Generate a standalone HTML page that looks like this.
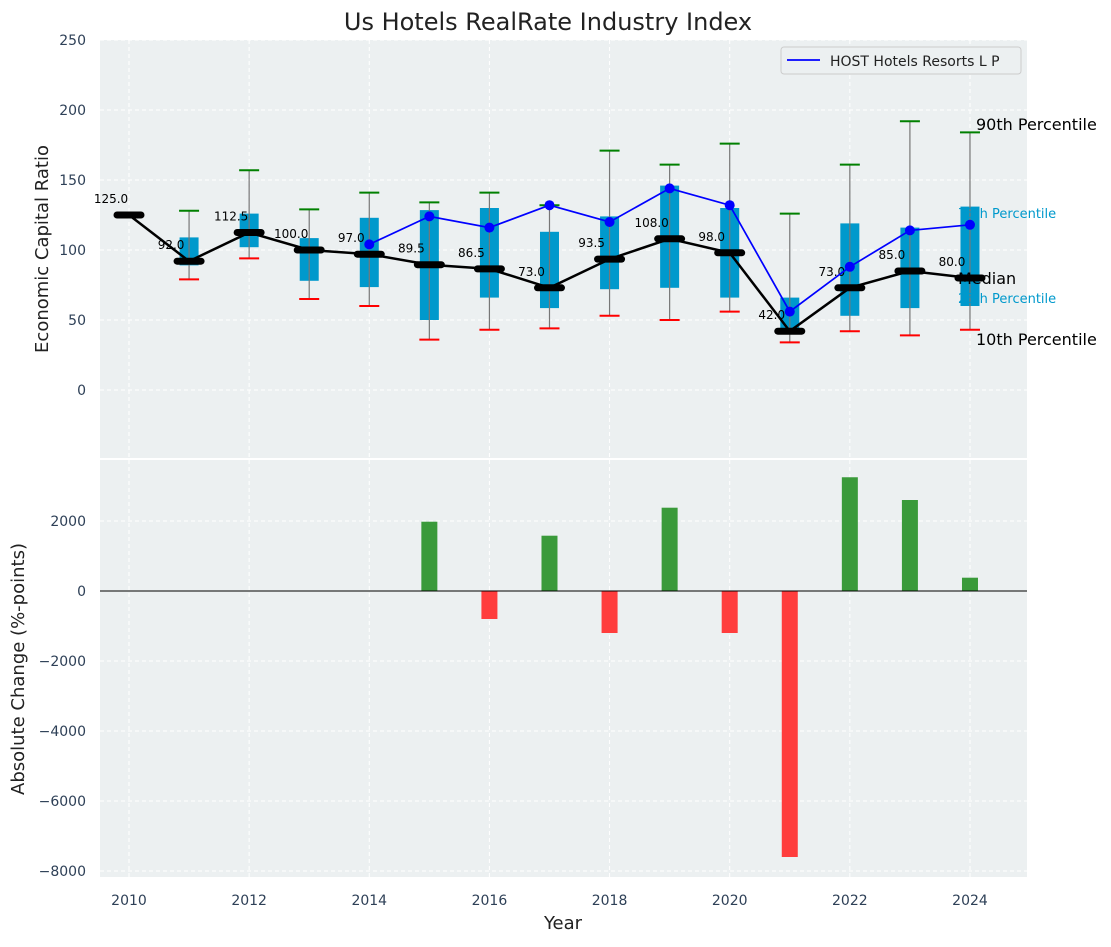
<!DOCTYPE html>
<html><head><meta charset="utf-8"><style>
body{margin:0;background:#fff;font-family:"Liberation Sans","DejaVu Sans",sans-serif}
svg text{font-family:"DejaVu Sans","Liberation Sans",sans-serif}
</style></head><body>
<svg id="c" width="1111" height="942" xmlns="http://www.w3.org/2000/svg"></svg>
<script>
const years=[2010,2011,2012,2013,2014,2015,2016,2017,2018,2019,2020,2021,2022,2023,2024];
const medians=[125,92,112.5,100,97,89.5,86.5,73,93.5,108,98,42,73,85,80];
const p10=[null,79,94,65,60,36,43,44,53,50,56,34,42,39,43];
const p90=[null,128,157,129,141,134,141,132,171,161,176,126,161,192,184];
const q25=[null,89,102,78,73.5,50,66,58.5,72,73,66,43,53,58.5,60];
const q75=[null,109,126,108.5,123,128.5,130,113,124,146,130,66,119,116,131];
const hostYears=[2014,2015,2016,2017,2018,2019,2020,2021,2022,2023,2024];
const hostVals=[104,124,116,132,120,144,132,56,88,114,118];
const changeYears=[2015,2016,2017,2018,2019,2020,2021,2022,2023,2024];
const changeVals=[1980,-800,1580,-1200,2380,-1200,-7600,3250,2600,380];
const topTicks=[0,50,100,150,200,250];
const botTicks=[-8000,-6000,-4000,-2000,0,2000];
const xTicks=[2010,2012,2014,2016,2018,2020,2022,2024];

const NS="http://www.w3.org/2000/svg",svg=document.getElementById('c');
function el(t,a,p){const e=document.createElementNS(NS,t);for(const k in a)e.setAttribute(k,a[k]);(p||svg).appendChild(e);return e;}
const L=100,R=1027,T1=40,B1=458,T2=460,B2=877;
const X=y=>129+(y-2010)*60.07;
const Y1=v=>390-v*1.4;
const Y2=v=>591-v*0.035;
const axColor="#2e4057";

let g=el('rect',{x:L,y:T1,width:R-L,height:B1-T1,fill:"#ecf0f1"});

g=el('rect',{x:L,y:T2,width:R-L,height:B2-T2,fill:"#ecf0f1"});


// grids
xTicks.forEach(t=>{[[T1,B1],[T2,B2]].forEach(([a,b])=>{let l=el('line',{x1:X(t),x2:X(t),y1:a,y2:b,stroke:"#fff","stroke-dasharray":"4,3","stroke-width":1});});});
topTicks.forEach(t=>{let l=el('line',{x1:L,x2:R,y1:Y1(t),y2:Y1(t),stroke:"#fff","stroke-dasharray":"4,3"});
let tx=el('text',{x:86,y:Y1(t)+5,"text-anchor":"end","font-size":14,fill:axColor});tx.textContent=t;});
botTicks.forEach(t=>{let l=el('line',{x1:L,x2:R,y1:Y2(t),y2:Y2(t),stroke:"#fff","stroke-dasharray":"4,3"});
let tx=el('text',{x:86,y:Y2(t)+5,"text-anchor":"end","font-size":14,fill:axColor});tx.textContent=t.toString().replace('-','−');});
xTicks.forEach(t=>{let tx=el('text',{x:X(t),y:905,"text-anchor":"middle","font-size":14,fill:axColor});tx.textContent=t;});

// boxes & whiskers
years.forEach((yr,i)=>{
 if(p10[i]==null)return;
 const x=X(yr);
 let b=el('rect',{x:x-9.5,y:Y1(q75[i]),width:19,height:Y1(q25[i])-Y1(q75[i]),fill:"#0099cc"});
 
 let w=el('line',{x1:x,x2:x,y1:Y1(p10[i]),y2:Y1(p90[i]),stroke:"#777","stroke-width":1.2});
 
 let c1=el('line',{x1:x-10,x2:x+10,y1:Y1(p90[i]),y2:Y1(p90[i]),stroke:"green","stroke-width":2});
 
 let c2=el('line',{x1:x-10,x2:x+10,y1:Y1(p10[i]),y2:Y1(p10[i]),stroke:"red","stroke-width":2});
 
});
// median line
let mp=el('polyline',{points:years.map((y,i)=>X(y)+","+Y1(medians[i])).join(" "),fill:"none",stroke:"#000","stroke-width":2.5});

years.forEach((yr,i)=>{
 let m=el('line',{x1:X(yr)-12,x2:X(yr)+12,y1:Y1(medians[i]),y2:Y1(medians[i]),stroke:"#000","stroke-width":7,"stroke-linecap":"round"});
 
 let t=el('text',{x:X(yr)-18,y:Y1(medians[i])-12,"text-anchor":"middle","font-size":12,fill:"#000"});
 t.textContent=medians[i].toFixed(1);
});
// host line
let hp=el('polyline',{points:hostYears.map((y,i)=>X(y)+","+Y1(hostVals[i])).join(" "),fill:"none",stroke:"blue","stroke-width":1.7});

hostYears.forEach((yr,i)=>{let c=el('circle',{cx:X(yr),cy:Y1(hostVals[i]),r:5,fill:"blue"});});

// right labels
const lab=(txt,x,y,fs,col,n)=>{let t=el('text',{x:x,y:y,"font-size":fs,fill:col});t.textContent=txt;};
lab("90th Percentile",976,130,16,"#000","p90-annotation");
lab("75th Percentile",958,218,13,"#0099cc","p75-annotation");
lab("Median",958,284,16,"#000","median-annotation");
lab("25th Percentile",958,303,13,"#0099cc","p25-annotation");
lab("10th Percentile",976,345,16,"#000","p10-annotation");

// legend
let lg=el('g',{});
el('rect',{x:781,y:47,width:240,height:27,fill:"#ecf0f1",stroke:"#ccc",rx:3},lg);
el('line',{x1:787,x2:820,y1:60,y2:60,stroke:"blue","stroke-width":1.7},lg);
let lt=el('text',{x:830,y:66,"font-size":14,fill:"#222"},lg);lt.textContent="HOST Hotels Resorts L P";

// bars
changeYears.forEach((yr,i)=>{const v=changeVals[i];
 let r=el('rect',{x:X(yr)-8,y:Math.min(Y2(v),Y2(0)),width:16,height:Math.abs(Y2(v)-Y2(0)),fill:v>=0?"#3a9a3a":"#ff3d3d"});
 });
let zl=el('line',{x1:L,x2:R,y1:Y2(0),y2:Y2(0),stroke:"#000","stroke-width":1});

// titles
lab("",0,0,1,"#000","spacer");
let tt=el('text',{x:548,y:30,"text-anchor":"middle","font-size":24,fill:"#222"});tt.textContent="Us Hotels RealRate Industry Index";
let y1=el('text',{x:48,y:249,"text-anchor":"middle","font-size":18,fill:"#222",transform:"rotate(-90 48 249)"});y1.textContent="Economic Capital Ratio";
let y2=el('text',{x:24,y:669,"text-anchor":"middle","font-size":18,fill:"#222",transform:"rotate(-90 24 669)"});y2.textContent="Absolute Change (%-points)";
let xt=el('text',{x:563,y:929,"text-anchor":"middle","font-size":18,fill:"#222"});xt.textContent="Year";
</script>
</body></html>
